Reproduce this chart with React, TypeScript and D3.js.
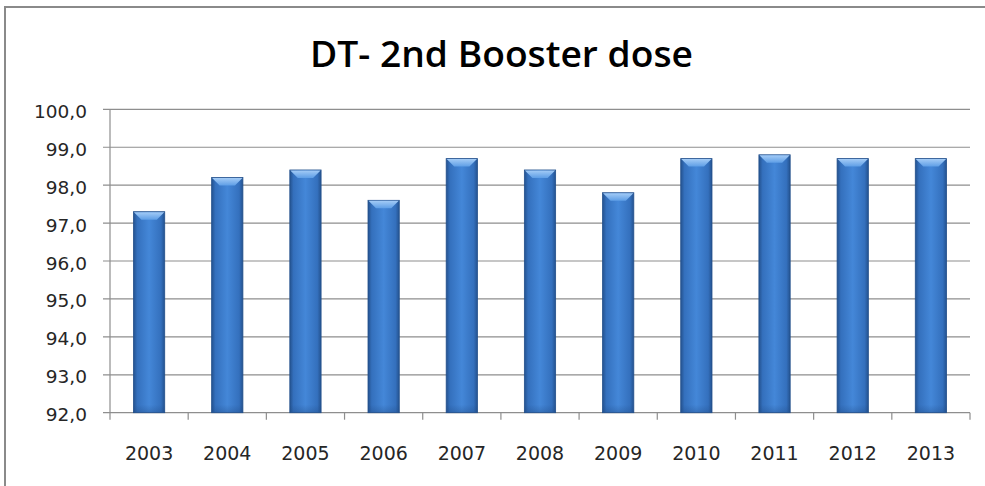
import React from "react";
import * as d3 from "d3";

const years = ["2003","2004","2005","2006","2007","2008","2009","2010","2011","2012","2013"];
const values = [97.3, 98.2, 98.4, 97.6, 98.7, 98.4, 97.8, 98.7, 98.8, 98.7, 98.7];
const yTicks = [92, 93, 94, 95, 96, 97, 98, 99, 100];
const title = "DT- 2nd Booster dose";

export default function App() {
  const W = 985, H = 486;
  const left = 110, right = 970, top = 109.3, bottom = 412.7;
  const x = d3.scaleBand<string>().domain(years).range([left, right]).paddingInner(0.6).paddingOuter(0.3);
  const xb = d3.scaleBand<string>().domain(years).range([left, right]);
  const y = d3.scaleLinear().domain([92, 100]).range([bottom, top]);
  const fmt = (v: number) => v.toFixed(1).replace(".", ",");
  const bw = x.bandwidth();
  const gridColor = "#8e8e8e";
  return (
    <svg width={W} height={H} style={{ display: "block", position: "absolute", left: 0, top: 0 }}>
      <defs>
        <linearGradient id="barG" x1="0" x2="1" y1="0" y2="0">
          <stop offset="0" stopColor="#24528f" />
          <stop offset="0.12" stopColor="#3470bd" />
          <stop offset="0.5" stopColor="#4487d8" />
          <stop offset="0.88" stopColor="#3470bd" />
          <stop offset="1" stopColor="#24528f" />
        </linearGradient>
        <linearGradient id="capG" x1="0" x2="0" y1="0" y2="1">
          <stop offset="0" stopColor="#a3cbf6" />
          <stop offset="1" stopColor="#5e9ee6" />
        </linearGradient>
        <linearGradient id="botG" x1="0" x2="0" y1="0" y2="1">
          <stop offset="0" stopColor="#1f4a85" stopOpacity="0" />
          <stop offset="1" stopColor="#1f4a85" stopOpacity="0.35" />
        </linearGradient>
      </defs>
      <rect x={0} y={0} width={W} height={H} fill="#fff" />
      <rect x={5} y={7} width={W + 20} height={H + 20} fill="#fff" stroke="#8a8a8a" strokeWidth={2} />
      <text x={501.5} y={66.7} textAnchor="middle" fontFamily="'Open Sans', sans-serif" fontWeight="600" fontSize={36}
        textLength={383} lengthAdjust="spacingAndGlyphs" fill="#000">{title}</text>
      {yTicks.map((t) => (
        <g key={t}>
          <line x1={left - 7} x2={right} y1={y(t)} y2={y(t)} stroke={gridColor} strokeWidth={1.2} />
          <text x={87} y={y(t) + 8.5} textAnchor="end" fontFamily="'DejaVu Sans', sans-serif" fontSize={18.5} fill="#262626">{fmt(t)}</text>
        </g>
      ))}
      <line x1={left} x2={left} y1={top} y2={bottom + 7} stroke={gridColor} strokeWidth={1.2} />
      {years.map((yr) => (
        <line key={"t" + yr} x1={(xb(yr) as number) + xb.bandwidth()} x2={(xb(yr) as number) + xb.bandwidth()} y1={bottom} y2={bottom + 7} stroke={gridColor} strokeWidth={1.2} />
      ))}
      {years.map((yr, i) => {
        const bx = x(yr) as number;
        const by = y(values[i]);
        const h = bottom - by;
        const cap = 8;
        return (
          <g key={yr}>
            <rect x={bx} y={by} width={bw} height={h} fill="url(#barG)" stroke="#23508c" strokeWidth={0.8} />
            <rect x={bx} y={bottom - 8} width={bw} height={8} fill="url(#botG)" />
            <path d={`M${bx + 0.5},${by + 0.5} L${bx + bw - 0.5},${by + 0.5} L${bx + bw - cap},${by + cap} L${bx + cap},${by + cap} Z`} fill="url(#capG)" />
          </g>
        );
      })}
      {years.map((yr) => (
        <text key={"l" + yr} x={(xb(yr) as number) + xb.bandwidth() / 2} y={460} textAnchor="middle" fontFamily="'DejaVu Sans', sans-serif" fontSize={19} fill="#262626">{yr}</text>
      ))}
    </svg>
  );
}
